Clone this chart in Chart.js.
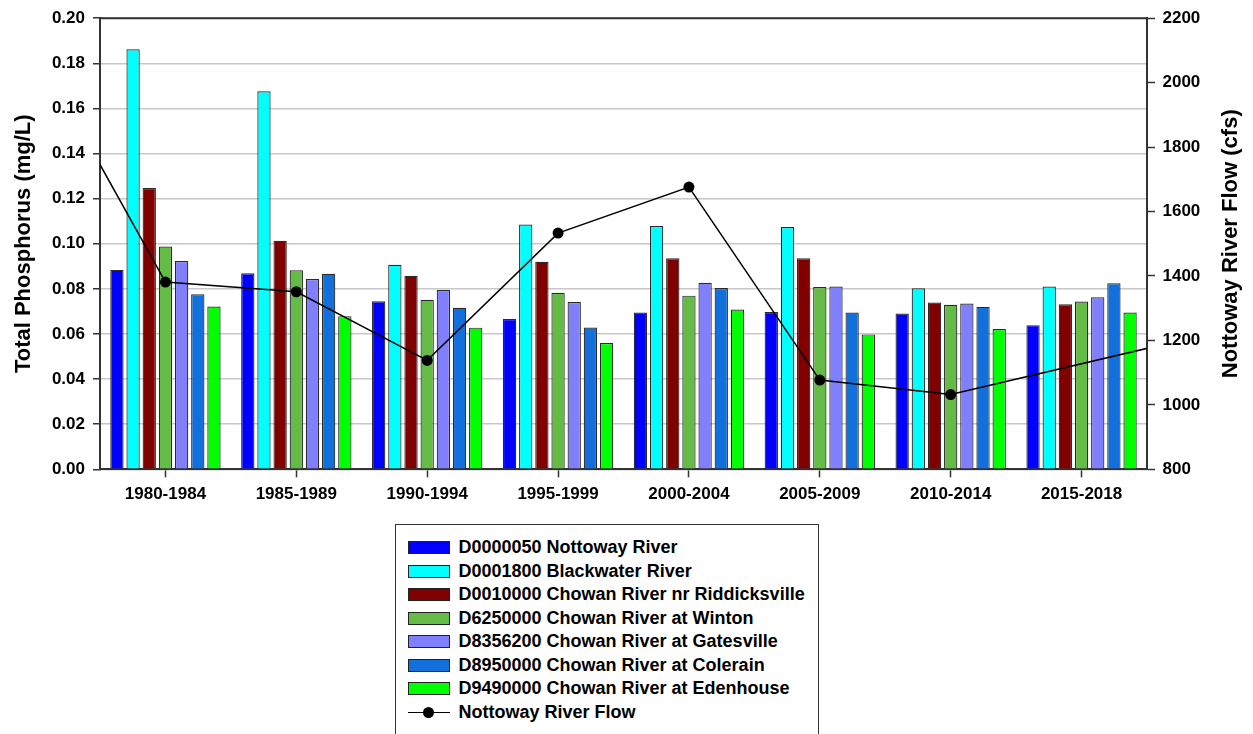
<!DOCTYPE html>
<html><head><meta charset="utf-8">
<script src="https://cdn.jsdelivr.net/npm/chart.js@4"></script>
<style>
html,body{margin:0;padding:0;background:#fff;overflow:hidden;}
#wrap{position:relative;width:1253px;height:734px;}
#legend{position:absolute;left:395px;top:524px;width:424px;height:240px;border:1.5px solid #333;box-sizing:border-box;font:bold 18px "Liberation Sans",Arial,sans-serif;color:#000;background:#fff;}
.row{position:absolute;left:11.5px;height:20px;display:flex;align-items:center;white-space:nowrap;}
.sw{width:42px;height:13px;border:1px solid #222;box-sizing:border-box;margin-right:9px;flex:none;}
.ln{position:relative;width:42px;height:13px;margin-right:9px;flex:none;}
.ln .bar{position:absolute;left:0;right:0;top:5.75px;height:1.5px;background:#000;}
.ln .dot{position:absolute;left:15.5px;top:1px;width:11px;height:11px;border-radius:50%;background:#000;}
</style></head>
<body><div id="wrap"><canvas id="c" width="1253" height="734"></canvas><div id="legend"></div></div>
<script>
// ---- data ----
const periods = ['1980-1984','1985-1989','1990-1994','1995-1999','2000-2004','2005-2009','2010-2014','2015-2018'];
const stationNames = [
  'D0000050 Nottoway River',
  'D0001800 Blackwater River',
  'D0010000 Chowan River nr Riddicksville',
  'D6250000 Chowan River at Winton',
  'D8356200 Chowan River at Gatesville',
  'D8950000 Chowan River at Colerain',
  'D9490000 Chowan River at Edenhouse'
];
const tpD0000050 = [0.0884, 0.0869, 0.0745, 0.0666, 0.0695, 0.0697, 0.0691, 0.0639];
const tpD0001800 = [0.1862, 0.1676, 0.0907, 0.1085, 0.1079, 0.1074, 0.0803, 0.0810];
const tpD0010000 = [0.1247, 0.1013, 0.0858, 0.0920, 0.0936, 0.0936, 0.0739, 0.0732];
const tpD6250000 = [0.0988, 0.0882, 0.0752, 0.0783, 0.0770, 0.0808, 0.0729, 0.0744];
const tpD8356200 = [0.0923, 0.0844, 0.0795, 0.0742, 0.0827, 0.0810, 0.0735, 0.0763];
const tpD8950000 = [0.0776, 0.0867, 0.0716, 0.0629, 0.0804, 0.0695, 0.0720, 0.0825];
const tpD9490000 = [0.0722, 0.0679, 0.0628, 0.0560, 0.0708, 0.0598, 0.0622, 0.0695];
// flow line: the line continues past both plot edges (off-axis points before/after the shown periods)
const edgeLabels = ['(before)', '(after)'];
const flowPeriods = ['(before)','1980-1984','1985-1989','1990-1994','1995-1999','2000-2004','2005-2009','2010-2014','(after)'];
const flowCfs = [2110, 1381, 1351, 1138, 1533, 1676, 1077, 1032, 1223];
const flowLabel = 'Nottoway River Flow';
const leftTicks = {min: 0, max: 0.20, step: 0.02};
const rightTicks = {min: 800, max: 2200, step: 200};
const leftTitle = 'Total Phosphorus (mg/L)';
const rightTitle = 'Nottoway River Flow (cfs)';

// ---- styles ----
const barColors = ['#0000ff','#00ffff','#800000','#64bc46','#8080ff','#1170dc','#00ff00'];
const FONT = '"Liberation Sans", Arial, sans-serif';
const tpSeries = [tpD0000050, tpD0001800, tpD0010000, tpD6250000, tpD8356200, tpD8950000, tpD9490000];
const allLabels = [edgeLabels[0], ...periods, edgeLabels[1]];

const datasets = tpSeries.map((vals, i) => ({
  type: 'bar', label: stationNames[i],
  data: periods.map((p, j) => ({x: p, y: vals[j]})),
  backgroundColor: barColors[i], borderColor: '#2a2a2a', borderWidth: 1.2,
  categoryPercentage: 0.865, barPercentage: 0.823,
  xAxisID: 'x', yAxisID: 'y', order: 1
}));
datasets.push({
  type: 'line', label: flowLabel,
  data: flowPeriods.map((p, i) => ({x: p, y: flowCfs[i]})),
  borderColor: '#000', borderWidth: 1.5, backgroundColor: '#000',
  pointRadius: ctx => (ctx.raw && edgeLabels.includes(ctx.raw.x)) ? 0 : 5.5,
  pointBackgroundColor: '#000', pointBorderColor: '#000', pointBorderWidth: 0,
  tension: 0, clip: 0, spanGaps: true, xAxisID: 'x', yAxisID: 'y2', order: 0
});

const framePlugin = {
  id: 'frame',
  afterDraw(chart) {
    const {ctx, chartArea} = chart;
    ctx.save();
    ctx.strokeStyle = '#333'; ctx.lineWidth = 2;
    ctx.beginPath(); ctx.moveTo(chartArea.left - 1, chartArea.top); ctx.lineTo(chartArea.right + 1, chartArea.top); ctx.stroke();
    const y2 = chart.scales.y2;
    ctx.font = 'bold 22px ' + FONT; ctx.fillStyle = '#000';
    ctx.textAlign = 'center'; ctx.textBaseline = 'middle';
    ctx.translate(y2.right - 22, (chartArea.top + chartArea.bottom) / 2);
    ctx.rotate(-Math.PI / 2);
    ctx.fillText(rightTitle, 0, 0);
    ctx.restore();
  }
};

const chart = new Chart(document.getElementById('c'), {
  type: 'bar',
  data: {labels: allLabels, datasets},
  options: {
    responsive: false, animation: false, devicePixelRatio: 1, events: [],
    layout: {padding: {top: 16, left: 0, right: 0, bottom: 0}},
    plugins: {legend: {display: false}, tooltip: {enabled: false}},
    scales: {
      x: {
        type: 'category', offset: true, position: 'bottom',
        min: periods[0], max: periods[periods.length - 1],
        grid: {offset: false, drawOnChartArea: false, drawTicks: true, tickLength: 8, tickColor: '#333', tickWidth: 1.5},
        border: {display: true, color: '#333', width: 2},
        ticks: {font: {family: FONT, size: 17, weight: 'bold'}, color: '#000', padding: 7, maxRotation: 0, autoSkip: false},
        afterFit: s => { s.height = 734 - 469.3; }
      },
      y: {
        type: 'linear', position: 'left', min: leftTicks.min, max: leftTicks.max,
        ticks: {stepSize: leftTicks.step, callback: v => v.toFixed(2), font: {family: FONT, size: 17, weight: 'bold'}, color: '#000', padding: 8},
        grid: {color: '#c8c8c8', lineWidth: 1.5, tickColor: '#333', tickLength: 7, tickWidth: 1.5},
        border: {display: true, color: '#333', width: 2},
        title: {display: true, text: leftTitle, font: {family: FONT, size: 22, weight: 'bold'}, color: '#000', padding: {top: 11, bottom: 0}},
        afterFit: s => { s.width = 100; }
      },
      y2: {
        type: 'linear', position: 'right', min: rightTicks.min, max: rightTicks.max,
        ticks: {stepSize: rightTicks.step, callback: v => String(v), font: {family: FONT, size: 17, weight: 'bold'}, color: '#000', padding: 7.5},
        grid: {drawOnChartArea: false, tickColor: '#333', tickLength: 8, tickWidth: 1.5},
        border: {display: true, color: '#333', width: 2},
        afterFit: s => { s.width = 1253 - 1147; }
      }
    }
  },
  plugins: [framePlugin]
});

// ---- HTML legend built from the chart's datasets ----
const legend = document.getElementById('legend');
chart.data.datasets.forEach((ds, i) => {
  const row = document.createElement('div');
  row.className = 'row';
  row.style.top = (12.8 + i * 23.5) + 'px';
  let mark;
  if (ds.type === 'bar') {
    mark = document.createElement('div');
    mark.className = 'sw';
    mark.style.background = ds.backgroundColor;
  } else {
    mark = document.createElement('div');
    mark.className = 'ln';
    mark.innerHTML = '<div class="bar"></div><div class="dot"></div>';
  }
  const txt = document.createElement('span');
  txt.textContent = ds.label;
  row.appendChild(mark); row.appendChild(txt);
  legend.appendChild(row);
});
</script>
</body></html>
